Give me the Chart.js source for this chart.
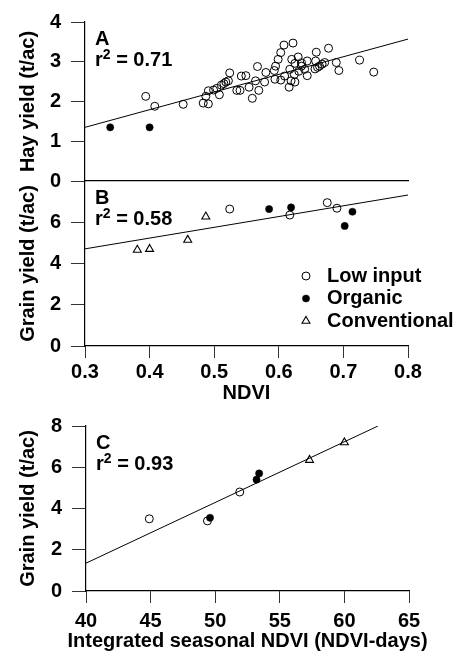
<!DOCTYPE html>
<html>
<head>
<meta charset="utf-8">
<script src="https://cdn.jsdelivr.net/npm/chart.js@4/dist/chart.umd.min.js"></script>
<style>
  body { margin: 0; background: #fff; }
  #wrap { position: relative; width: 472px; height: 658px; }
  #wrap canvas { position: absolute; left: 0; top: 0; }
</style>
</head>
<body>
<div id="wrap">
  <canvas id="chartA" width="472" height="658"></canvas>
  <canvas id="chartB" width="472" height="658"></canvas>
  <canvas id="chartC" width="472" height="658"></canvas>
</div>
<script>
// ---- data ----
// Panel A: hay yield (t/ac) vs NDVI
var hayLowInput = [
    [0.394, 2.13], [0.408, 1.88], [0.452, 1.93], [0.483, 1.96], [0.491, 1.94],
    [0.487, 2.13], [0.491, 2.27], [0.499, 2.29], [0.504, 2.33], [0.508, 2.17],
    [0.511, 2.41], [0.515, 2.45], [0.518, 2.49], [0.522, 2.52], [0.524, 2.72],
    [0.535, 2.28], [0.540, 2.28], [0.542, 2.64], [0.549, 2.65], [0.554, 2.36],
    [0.559, 2.08], [0.567, 2.88], [0.564, 2.52], [0.569, 2.28], [0.578, 2.49],
    [0.580, 2.73], [0.593, 2.78], [0.595, 2.89], [0.599, 3.06], [0.603, 3.23],
    [0.608, 3.42], [0.622, 3.47], [0.594, 2.56], [0.603, 2.54], [0.609, 2.64],
    [0.620, 3.06], [0.625, 2.96], [0.630, 3.12], [0.635, 2.97], [0.617, 2.81],
    [0.624, 2.68], [0.619, 2.52], [0.616, 2.36], [0.631, 2.76], [0.635, 2.89],
    [0.644, 2.65], [0.625, 2.49], [0.640, 2.81], [0.644, 3.02], [0.657, 3.02],
    [0.658, 3.24], [0.671, 2.98], [0.667, 2.94], [0.663, 2.89], [0.660, 2.86],
    [0.656, 2.82], [0.677, 3.34], [0.689, 2.98], [0.693, 2.78], [0.725, 3.04],
    [0.747, 2.74]
];
var hayOrganic = [[0.339, 1.35], [0.400, 1.35]];
var hayFit = [[0.3, 1.35], [0.8, 3.57]];

// Panel B: grain yield (t/ac) vs NDVI
var grainLowInput = [[0.524, 6.64], [0.617, 6.35], [0.675, 6.95], [0.690, 6.68]];
var grainOrganic = [[0.585, 6.64], [0.619, 6.72], [0.714, 6.51], [0.702, 5.82]];
var grainConventional = [[0.381, 4.66], [0.400, 4.70], [0.459, 5.14], [0.487, 6.27]];
var grainFit = [[0.3, 4.71], [0.8, 7.32]];

// Panel C: grain yield vs integrated seasonal NDVI
var seasonalLowInput = [[44.9, 3.5], [49.4, 3.4], [51.9, 4.8]];
var seasonalOrganic = [[49.6, 3.55], [53.2, 5.4], [53.4, 5.7]];
var seasonalConventional = [[57.3, 6.35], [60.0, 7.2]];
var seasonalFit = [[40, 1.35], [62.6, 8.0]];

var panelLetters = ['A', 'B', 'C'];
var rSquared = [0.71, 0.58, 0.93];
var legendLabels = ['Low input', 'Organic', 'Conventional'];
var ndviTicks = [0.3, 0.4, 0.5, 0.6, 0.7, 0.8];
var seasonalTicks = [40, 45, 50, 55, 60, 65];

// ---- styling ----
var FONT = '"Liberation Sans", Arial, Helvetica, sans-serif';
Chart.defaults.font.family = FONT;
Chart.defaults.font.size = 20;
Chart.defaults.font.weight = 'bold';
Chart.defaults.font.lineHeight = 1.2;
Chart.defaults.color = '#000';

function toPoints(pairs) {
    return pairs.map(function(p) { return { x: p[0], y: p[1] }; });
}

var styles = {
    'Low input': { pointStyle: 'circle', pointRadius: 4, pointBorderWidth: 1,
        borderColor: '#000', backgroundColor: 'rgba(0,0,0,0)' },
    'Organic': { pointStyle: 'circle', pointRadius: 3.6, pointBorderWidth: 0.5,
        borderColor: '#000', backgroundColor: '#000' },
    'Conventional': { pointStyle: 'triangle', pointRadius: 4.6, pointBorderWidth: 1.1,
        borderColor: '#000', backgroundColor: 'rgba(0,0,0,0)' }
};

function pointSet(label, pairs) {
    return Object.assign({ label: label, data: toPoints(pairs) }, styles[label]);
}

function fitLine(pairs) {
    return { label: 'fit', data: toPoints(pairs), showLine: true, pointRadius: 0,
        borderColor: '#000', borderWidth: 1, backgroundColor: '#000' };
}

// y axis with fixed width so the plot edge lands where the figure has it
function yAxis(max, step, title, width, hideTop) {
    return {
        min: 0, max: max,
        afterFit: function(s) { s.width = width; },
        ticks: {
            stepSize: step, padding: 10,
            callback: function(v) { return (hideTop && v === max) ? null : v; }
        },
        grid: { drawOnChartArea: false, tickLength: 14, color: '#333', lineWidth: 1 },
        border: { color: '#000', width: 1.2 },
        title: { display: true, text: title, padding: { top: 16, bottom: 0 } }
    };
}

function xAxis(ticks, height, opts) {
    var min = ticks[0], max = ticks[ticks.length - 1];
    return {
        type: 'linear', min: min, max: max,
        afterFit: function(s) { s.height = height; },
        afterBuildTicks: function(s) {
            s.ticks = ticks.map(function(v) { return { value: v }; });
        },
        ticks: {
            display: opts.labels, padding: opts.padding || 0,
            callback: function(v) { return opts.decimals ? v.toFixed(opts.decimals) : v; }
        },
        grid: { drawOnChartArea: false, drawTicks: opts.labels, tickLength: 12,
            color: '#333' },
        border: { color: '#000', width: 1.2 },
        title: { display: !!opts.title, text: opts.title || '',
            padding: { top: 0, bottom: opts.titlePad || 0 } }
    };
}

// panel letter and r² written in the top left of the plot area,
// plus an optional wide axis title that Chart.js would squeeze
var panelText = {
    id: 'panelText',
    afterDraw: function(chart, args, o) {
        var ctx = chart.ctx, area = chart.chartArea;
        var x = area.left + 10, y = area.top + 38;
        ctx.save();
        ctx.fillStyle = '#000';
        ctx.textBaseline = 'middle';
        ctx.font = 'bold 20px ' + FONT;
        ctx.fillText(o.letter, x, area.top + 17);
        ctx.fillText('r', x, y);
        x += ctx.measureText('r').width;
        ctx.font = 'bold 14px ' + FONT;
        ctx.fillText('2', x, y - 5);
        x += ctx.measureText('2').width;
        ctx.font = 'bold 20px ' + FONT;
        ctx.fillText(' = ' + o.r2.toFixed(2), x, y);
        if (o.xTitle) {
            ctx.textAlign = 'center';
            ctx.fillText(o.xTitle, (area.left + area.right) / 2, area.bottom + 50);
        }
        ctx.restore();
    }
};

// legend inside panel B, markers drawn with the dataset styles
var insideLegend = {
    id: 'insideLegend',
    afterDraw: function(chart, args, o) {
        if (!o.show) return;
        var ctx = chart.ctx, area = chart.chartArea;
        ctx.save();
        ctx.textBaseline = 'middle';
        ctx.font = 'bold 20px ' + FONT;
        legendLabels.forEach(function(label, i) {
            var st = styles[label];
            var y = area.bottom - 70 + i * 22.5;
            var mx = area.right - 102;
            ctx.fillStyle = st.backgroundColor;
            ctx.strokeStyle = st.borderColor;
            ctx.lineWidth = st.pointBorderWidth;
            Chart.helpers.drawPoint(ctx, { pointStyle: st.pointStyle, radius: st.pointRadius,
                borderWidth: st.pointBorderWidth, rotation: 0 }, mx, y);
            ctx.fillStyle = '#000';
            ctx.fillText(label, area.right - 81, y);
        });
        ctx.restore();
    }
};

function makeChart(id, datasets, x, y, padding, idx, extra) {
    extra = extra || {};
    return new Chart(document.getElementById(id), {
        type: 'scatter',
        data: { datasets: datasets },
        options: {
            responsive: false,
            animation: false,
            layout: { padding: padding },
            scales: { x: x, y: y },
            plugins: {
                legend: { display: false },
                tooltip: { enabled: false },
                panelText: { letter: panelLetters[idx], r2: rSquared[idx], xTitle: extra.xTitle },
                insideLegend: { show: !!extra.legend }
            }
        },
        plugins: [panelText, insideLegend]
    });
}

// A: plot area y 15..181
makeChart('chartA',
    [pointSet('Organic', hayOrganic), pointSet('Low input', hayLowInput), fitLine(hayFit)],
    xAxis(ndviTicks, 10, { labels: false }),
    yAxis(4, 1, 'Hay yield (t/ac)', 85, false),
    { top: 15, right: 64, bottom: 467, left: 0 }, 0);

// B: plot area y 181..346, shares the NDVI axis
makeChart('chartB',
    [pointSet('Organic', grainOrganic), pointSet('Low input', grainLowInput),
     pointSet('Conventional', grainConventional), fitLine(grainFit)],
    xAxis(ndviTicks, 60, { labels: true, decimals: 1, padding: 2, title: 'NDVI', titlePad: 1 }),
    yAxis(8, 2, 'Grain yield (t/ac)', 85, true),
    { top: 181, right: 64, bottom: 252, left: 0 }, 1, { legend: true });

// C: plot area y 426..591
makeChart('chartC',
    [pointSet('Organic', seasonalOrganic), pointSet('Low input', seasonalLowInput),
     pointSet('Conventional', seasonalConventional), fitLine(seasonalFit)],
    xAxis(seasonalTicks, 67, { labels: true, padding: 6 }),
    yAxis(8, 2, 'Grain yield (t/ac)', 86, false),
    { top: 426, right: 63, bottom: 0, left: 0 }, 2,
    { xTitle: 'Integrated seasonal NDVI (NDVI-days)' });
</script>
</body>
</html>
